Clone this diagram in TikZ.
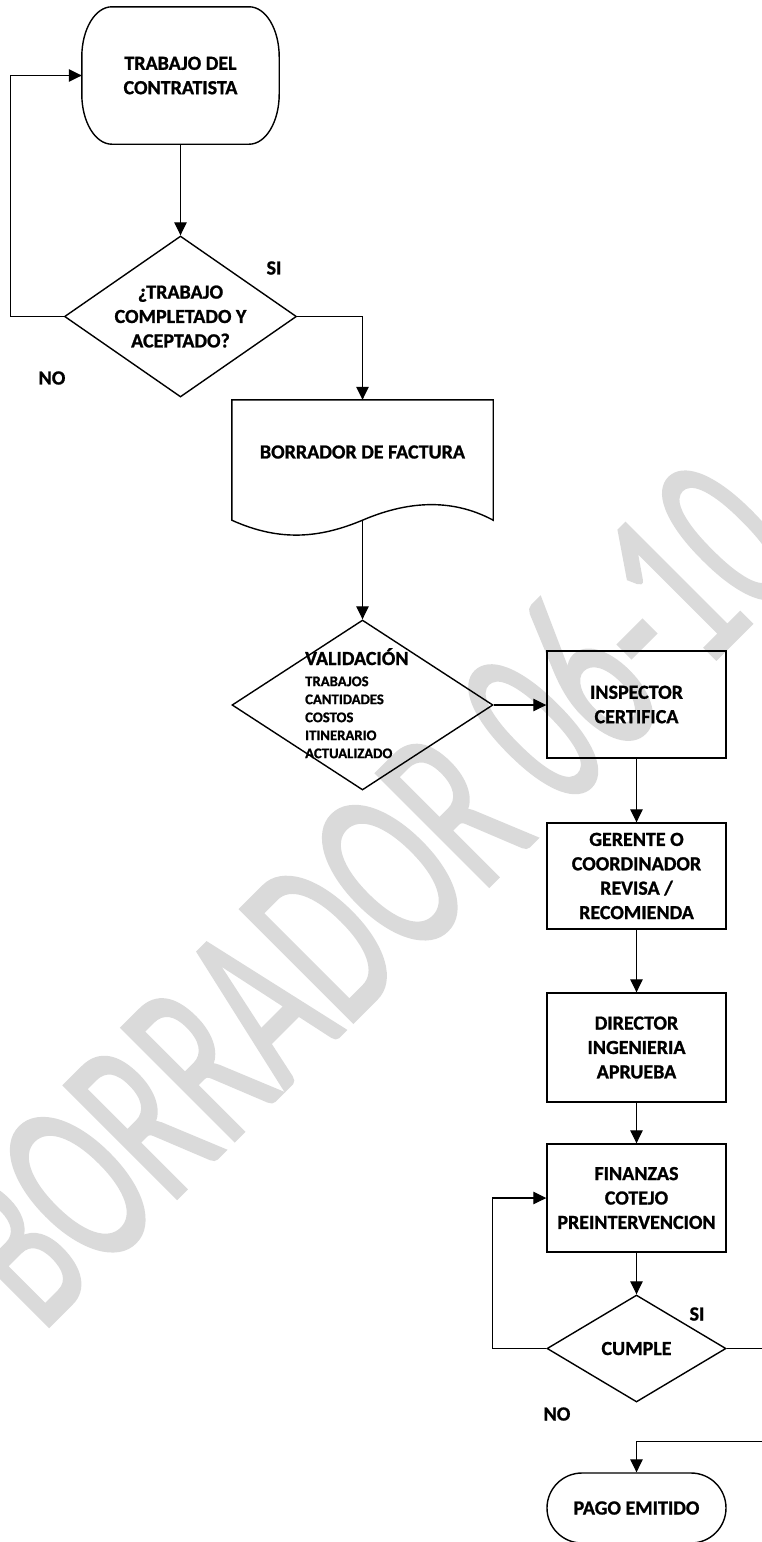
\documentclass[tikz,border=0pt]{standalone}
\usepackage{fontspec}
\setmainfont{Carlito}[BoldFeatures={FakeBold=1.1}]
\newfontfamily\stampfont{Carlito}[FakeBold=1.3]
\usetikzlibrary{shapes.geometric,arrows.meta,calc}
\definecolor{wmgray}{RGB}{218,218,218}
\begin{document}
\begin{tikzpicture}[x=1pt,y=-1pt,
  every node/.style={inner sep=0pt, font=\bfseries\fontsize{20pt}{24.4pt}\selectfont},
  outline/.style={draw=black, line width=1.4pt},
  stepbox/.style={outline, rectangle, minimum width=179pt, minimum height=107pt, align=center},
  decision/.style={outline, diamond},
  arr/.style={line width=1.1pt, -{Triangle[width=12.5pt,length=13pt]}},
  wmark/.style={text=wmgray, font=\stampfont\fontsize{150pt}{155pt}\selectfont},
  listfont/.style={font=\bfseries\fontsize{14.7pt}{18pt}\selectfont}
]
\path[use as bounding box, clip] (0,0) rectangle (762,1542);

% draft stamp behind the flow
\node[wmark, anchor=base west, rotate=45, yscale=1.653] (wm) at (41,1334) {BORRADOR 06-10};

% start terminal with elliptical corners
\node[minimum width=197pt, minimum height=137pt, align=center] (start) at (180.5,75.5) {TRABAJO DEL\\CONTRATISTA};
\draw[outline] ([xshift=30pt]start.north west) -- ([xshift=-30pt]start.north east)
  arc[start angle=90, end angle=0, x radius=30pt, y radius=50pt]
  -- ([yshift=50pt]start.south east)
  arc[start angle=0, end angle=-90, x radius=30pt, y radius=50pt]
  -- ([xshift=30pt]start.south west)
  arc[start angle=270, end angle=180, x radius=30pt, y radius=50pt]
  -- ([yshift=-50pt]start.north west)
  arc[start angle=180, end angle=90, x radius=30pt, y radius=50pt] -- cycle;

% first decision
\node[decision, minimum width=232pt, minimum height=161pt] (q1) at (180.5,316.5) {};
\node[align=center] (q1text) at (q1) {¿TRABAJO\\COMPLETADO Y\\ACEPTADO?};
\node (si1) at (274,268) {SI};
\node (no1) at (52,378) {NO};

% invoice document with wavy bottom
\node[minimum width=261pt, minimum height=120pt] (doc) at (362.5,460) {};
\draw[outline] (doc.south west) -- (doc.north west) -- (doc.north east) -- (doc.south east)
  .. controls (450,497) and (405,502) .. (doc.south)
  .. controls (320,538) and (280,542) .. (doc.south west) -- cycle;
\node (doctext) at (362.5,452) {BORRADOR DE FACTURA};

% validation decision
\node[decision, minimum width=261pt, minimum height=170pt] (val) at (362.5,705) {};
\node[anchor=base west] (valtitle) at (305,665) {VALIDACIÓN};
\node[listfont, anchor=north west, align=left] (vallist) at (305,676.3)
  {TRABAJOS\\CANTIDADES\\COSTOS\\ITINERARIO\\ACTUALIZADO};

% approval chain
\node[stepbox] (insp) at (636.5,704.5) {INSPECTOR\\CERTIFICA};
\node[stepbox, minimum height=106pt] (ger) at (636.5,876) {GERENTE O\\COORDINADOR\\REVISA /\\RECOMIENDA};
\node[stepbox, minimum height=109pt] (dir) at (636.5,1047.5) {DIRECTOR\\INGENIERIA\\APRUEBA};
\node[stepbox, minimum height=108pt] (fin) at (636.5,1198) {FINANZAS\\COTEJO\\PREINTERVENCION};

% final check and end terminal
\node[decision, minimum width=179pt, minimum height=107pt] (cum) at (636.5,1348.5) {CUMPLE};
\node (si2) at (697,1314) {SI};
\node (no2) at (557,1414) {NO};
\node[outline, rounded corners=35pt, minimum width=179pt, minimum height=70pt] (pago) at (636.5,1508) {PAGO EMITIDO};

% connectors
\draw[arr] (start.south) -- (q1.north);
\draw[arr] (q1.west) -- ++(-53.5,0) |- (start.west);
\draw[arr] (q1.east) -| (doc.north);
\draw[arr] (doc.south) -- (val.north);
\draw[arr] (val.east) -- (val.east -| insp.west);
\draw[arr] (insp.south) -- (ger.north);
\draw[arr] (ger.south) -- (dir.north);
\draw[arr] (dir.south) -- (fin.north);
\draw[arr] (fin.south) -- (cum.north);
\draw[arr] (cum.west) -- ++(-54,0) |- (fin.west);
\draw[arr] (cum.east) -- ++(50,0) |- ([yshift=31pt]pago.north) -- (pago.north);
\end{tikzpicture}
\end{document}
